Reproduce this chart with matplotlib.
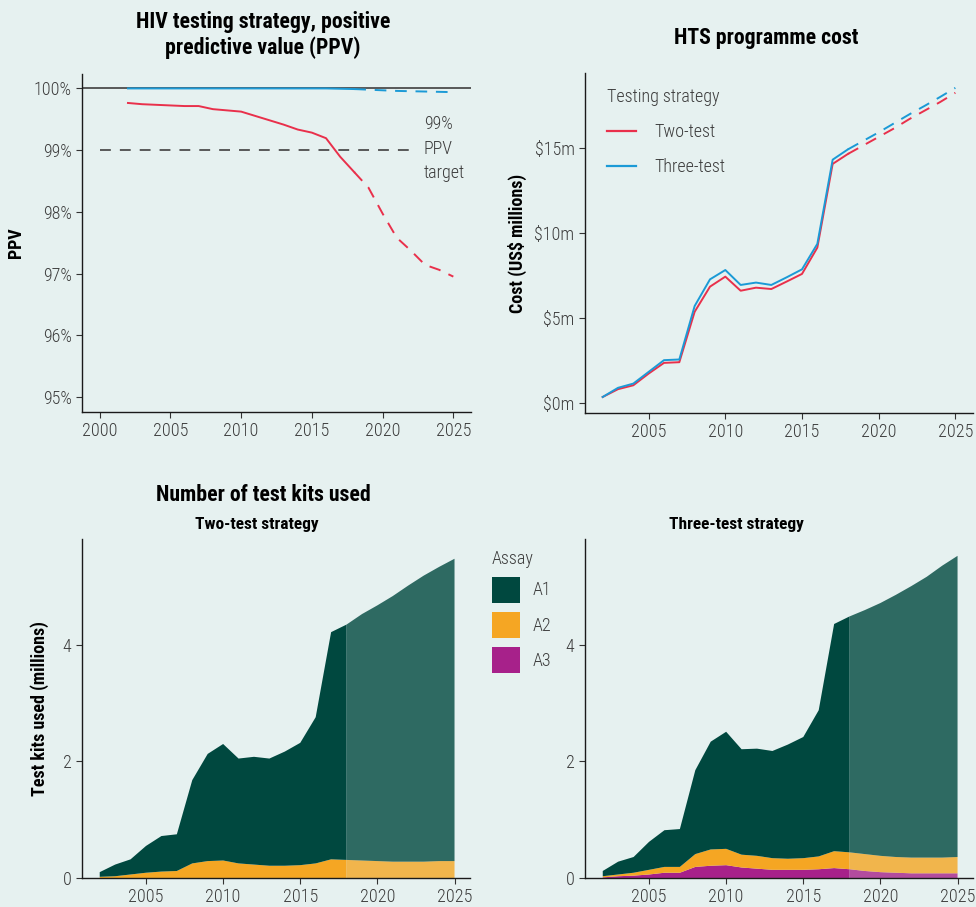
import matplotlib
matplotlib.use("Agg")
import matplotlib.pyplot as plt
from matplotlib import font_manager
from matplotlib.lines import Line2D
from matplotlib.patches import Patch
from matplotlib.ticker import FuncFormatter

# --- data ---
years = list(range(2002, 2026))
proj_start = 2018

ppv_two = [99.76, 99.74, 99.73, 99.72, 99.71, 99.71, 99.66, 99.64, 99.62, 99.55, 99.48, 99.41,
           99.33, 99.28, 99.19, 98.89, 98.64, 98.39, 97.97, 97.58, 97.37, 97.14, 97.06, 96.95]
ppv_three = [99.995] * 15 + [99.99, 99.985, 99.975, 99.965, 99.955, 99.95, 99.945, 99.94, 99.935]
ppv_target = 99.0

cost_two = [0.33, 0.79, 1.02, 1.71, 2.34, 2.38, 5.35, 6.83, 7.42, 6.59, 6.77, 6.69, 7.13, 7.58,
            9.13, 14.06, 14.65, 15.15, 15.65, 16.15, 16.70, 17.20, 17.70, 18.25]
cost_three = [0.33, 0.87, 1.12, 1.81, 2.50, 2.54, 5.69, 7.26, 7.81, 6.93, 7.07, 6.93, 7.38, 7.85,
              9.35, 14.31, 14.92, 15.42, 15.92, 16.45, 16.98, 17.48, 18.00, 18.54]

# test kits (millions), per assay layer
two_a1 = [0.08, 0.20, 0.26, 0.46, 0.61, 0.63, 1.43, 1.84, 2.00, 1.80, 1.85, 1.84, 1.96, 2.10,
          2.51, 3.90, 4.04, 4.23, 4.39, 4.56, 4.74, 4.91, 5.05, 5.19]
two_a2 = [0.02, 0.03, 0.06, 0.09, 0.11, 0.12, 0.25, 0.29, 0.30, 0.25, 0.23, 0.21, 0.21, 0.22,
          0.25, 0.32, 0.31, 0.30, 0.29, 0.28, 0.28, 0.28, 0.29, 0.29]
two_a3 = [0.0] * 24
three_a1 = [0.09, 0.22, 0.27, 0.48, 0.63, 0.65, 1.44, 1.85, 2.01, 1.81, 1.84, 1.84, 1.96, 2.08,
            2.51, 3.90, 4.05, 4.19, 4.34, 4.50, 4.66, 4.82, 5.01, 5.17]
three_a2 = [0.02, 0.03, 0.05, 0.08, 0.10, 0.10, 0.22, 0.28, 0.28, 0.22, 0.22, 0.20, 0.19, 0.20,
            0.22, 0.29, 0.29, 0.29, 0.28, 0.27, 0.27, 0.27, 0.27, 0.28]
three_a3 = [0.01, 0.03, 0.04, 0.06, 0.09, 0.09, 0.19, 0.21, 0.22, 0.18, 0.16, 0.14, 0.14, 0.14,
            0.15, 0.17, 0.15, 0.12, 0.10, 0.09, 0.08, 0.08, 0.08, 0.08]

assays = ["A1", "A2", "A3"]
assay_colors = {"A1": "#00483f", "A2": "#f5a623", "A3": "#a7218a"}
red = "#e9304b"
blue = "#1b9ad6"
bg = "#e6f1f0"
grey = "#4d4d4d"
txt = "#3c3c3c"

# --- fonts ---
available = {f.name for f in font_manager.fontManager.ttflist}
cond = next((f for f in ["Roboto Condensed", "Liberation Sans Narrow", "Roboto"] if f in available), "DejaVu Sans")
plt.rcParams["font.family"] = [cond, "DejaVu Sans"]
plt.rcParams["axes.linewidth"] = 1.0

fig = plt.figure(figsize=(9.76, 9.07), dpi=100, facecolor=bg)

ax_ppv = fig.add_axes([0.0840, 0.5458, 0.3986, 0.3727])
ax_cost = fig.add_axes([0.5994, 0.5447, 0.3975, 0.3749])
ax_two = fig.add_axes([0.0840, 0.0320, 0.3975, 0.3738])
ax_three = fig.add_axes([0.5994, 0.0320, 0.3975, 0.3738])


def style(ax):
    ax.set_facecolor(bg)
    for s in ["top", "right"]:
        ax.spines[s].set_visible(False)
    for s in ["left", "bottom"]:
        ax.spines[s].set_color("#1a1a1a")
    ax.tick_params(colors="#333333", labelcolor=txt, labelsize=13, length=4, width=0.8)
    for lab in ax.get_xticklabels() + ax.get_yticklabels():
        lab.set_fontweight("light")


i0 = years.index(proj_start)
obs = slice(0, i0 + 1)
prj = slice(i0, None)
dash = (6, 4.5)

# --- PPV ---
ax = ax_ppv
ax.axhline(100, color=grey, lw=1.3)
ax.plot([2000, 2022.4], [ppv_target, ppv_target], color=grey, lw=1.3, dashes=(6, 5))
ax.plot(years[obs], ppv_three[obs], color=blue, lw=1.4)
ax.plot(years[prj], ppv_three[prj], color=blue, lw=1.4, dashes=dash)
ax.plot(years[obs], ppv_two[obs], color=red, lw=1.4)
ax.plot(years[prj], ppv_two[prj], color=red, lw=1.4, dashes=dash)
ax.text(2022.9, ppv_target + 0.02, "99%\nPPV\ntarget", ha="left", va="center", fontsize=13,
        color=txt, fontweight="light", linespacing=1.45)
ax.set_xlim(1998.75, 2026.25)
ax.set_ylim(94.76, 100.23)
ax.set_xticks(range(2000, 2026, 5))
ax.set_yticks([95, 96, 97, 98, 99, 100])
ax.yaxis.set_major_formatter(FuncFormatter(lambda v, p: f"{v:.0f}%"))
ax.set_ylabel("PPV", fontsize=13, fontweight="bold")
ax.yaxis.set_label_coords(-0.147, 0.5)
style(ax)

# --- cost ---
ax = ax_cost
ax.plot(years[obs], cost_two[obs], color=red, lw=1.4)
ax.plot(years[prj], cost_two[prj], color=red, lw=1.4, dashes=dash)
ax.plot(years[obs], cost_three[obs], color=blue, lw=1.4)
ax.plot(years[prj], cost_three[prj], color=blue, lw=1.4, dashes=dash)
ax.set_xlim(2000.85, 2026.15)
ax.set_ylim(-0.61, 19.42)
ax.set_xticks(range(2005, 2026, 5))
ax.set_yticks([0, 5, 10, 15])
ax.yaxis.set_major_formatter(FuncFormatter(lambda v, p: f"${v:.0f}m"))
ax.set_ylabel("Cost (US$ millions)", fontsize=13, fontweight="bold")
ax.yaxis.set_label_coords(-0.149, 0.5)
style(ax)
handles = [Line2D([], [], color=red, lw=1.6), Line2D([], [], color=blue, lw=1.6)]
leg = ax.legend(handles, ["Two-test", "Three-test"], title="Testing strategy", loc="upper left",
                bbox_to_anchor=(0.015, 1.003), frameon=False, fontsize=13, title_fontsize=13,
                handlelength=1.6, handletextpad=1.0, labelspacing=0.95, alignment="left")
for t in leg.get_texts() + [leg.get_title()]:
    t.set_color(txt)
    t.set_fontweight("light")


# --- kits ---
def kits(ax, layers):
    cols = [assay_colors[a] for a in ["A3", "A2", "A1"]]
    ax.stackplot(years[obs], *[l[obs] for l in layers], colors=cols, lw=0)
    ax.stackplot(years[prj], *[l[prj] for l in layers], colors=cols, alpha=0.8, lw=0)
    ax.set_xlim(2000.85, 2026.0)
    ax.set_ylim(0, 5.82)
    ax.set_xticks(range(2005, 2026, 5))
    ax.set_yticks([0, 2, 4])
    style(ax)


kits(ax_two, [two_a3, two_a2, two_a1])
kits(ax_three, [three_a3, three_a2, three_a1])
ax_two.set_ylabel("Test kits used (millions)", fontsize=13, fontweight="bold")
ax_two.yaxis.set_label_coords(-0.085, 0.5)

patches = [Patch(facecolor=assay_colors[a], edgecolor="none") for a in assays]
leg2 = fig.legend(patches, assays, title="Assay", loc="upper left", bbox_to_anchor=(0.487, 0.412),
                  frameon=False, fontsize=13, title_fontsize=13, handlelength=1.55, handleheight=1.85,
                  handletextpad=0.75, labelspacing=0.5, alignment="left")
for t in leg2.get_texts() + [leg2.get_title()]:
    t.set_color(txt)
    t.set_fontweight("light")

# --- titles ---
fig.text(263 / 976, 1 - 35 / 907, "HIV testing strategy, positive\npredictive value (PPV)", ha="center",
         va="center", fontsize=15.7, fontweight="bold", linespacing=1.2)
fig.text(766 / 976, 1 - 38 / 907, "HTS programme cost", ha="center", va="center", fontsize=15.7,
         fontweight="bold")
fig.text(263 / 976, 1 - 495 / 907, "Number of test kits used", ha="center", va="center", fontsize=15.7,
         fontweight="bold")
fig.text(257 / 976, 1 - 525 / 907, "Two-test strategy", ha="center", va="center", fontsize=12.5,
         fontweight="bold")
fig.text(736 / 976, 1 - 525 / 907, "Three-test strategy", ha="center", va="center", fontsize=12.5,
         fontweight="bold")

fig.savefig("out.png", dpi=100, facecolor=bg)
